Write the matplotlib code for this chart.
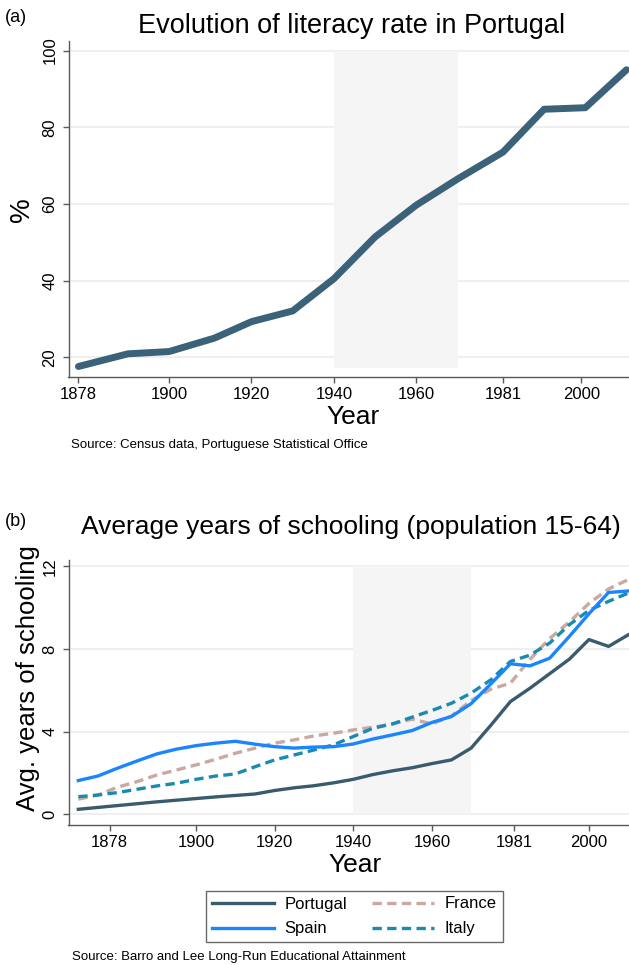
import matplotlib
matplotlib.use("Agg")
import matplotlib.pyplot as plt

plt.rcParams['font.family'] = ['Liberation Sans', 'DejaVu Sans']

# ---------------- data ----------------
lit_years = [1878, 1890, 1900, 1911, 1920, 1930, 1940, 1950, 1960, 1970, 1981, 1991, 2001, 2011]
lit_rate = [17.6, 20.9, 21.5, 25.0, 29.3, 32.1, 40.5, 51.4, 59.7, 66.5, 73.5, 84.7, 85.1, 95.0]

sch_years = [1870, 1875, 1880, 1885, 1890, 1895, 1900, 1905, 1910, 1915, 1920, 1925, 1930,
             1935, 1940, 1945, 1950, 1955, 1960, 1965, 1970, 1975, 1980, 1985, 1990, 1995,
             2000, 2005, 2010]
portugal = [0.24, 0.33, 0.42, 0.51, 0.60, 0.68, 0.76, 0.84, 0.91, 0.98, 1.15, 1.28, 1.38,
            1.52, 1.69, 1.92, 2.10, 2.25, 2.45, 2.63, 3.20, 4.30, 5.45, 6.10, 6.80, 7.50,
            8.45, 8.12, 8.68]
spain = [1.63, 1.85, 2.23, 2.58, 2.92, 3.15, 3.32, 3.44, 3.53, 3.39, 3.27, 3.20, 3.25,
         3.27, 3.40, 3.64, 3.84, 4.05, 4.44, 4.73, 5.35, 6.30, 7.28, 7.18, 7.55, 8.60,
         9.70, 10.73, 10.80]
france = [0.73, 0.93, 1.31, 1.58, 1.90, 2.14, 2.39, 2.66, 2.95, 3.20, 3.44, 3.60, 3.79,
          3.92, 4.08, 4.21, 4.37, 4.60, 4.37, 4.75, 5.50, 6.05, 6.34, 7.50, 8.50, 9.30,
          10.20, 10.90, 11.35]
italy = [0.85, 0.93, 1.05, 1.21, 1.37, 1.50, 1.69, 1.85, 1.95, 2.30, 2.63, 2.87, 3.11,
         3.36, 3.76, 4.16, 4.37, 4.70, 5.02, 5.37, 5.86, 6.50, 7.39, 7.70, 8.28, 9.17,
         9.86, 10.30, 10.70]

xticks = [1878, 1900, 1920, 1940, 1960, 1981, 2000]
yticks_a = [20, 40, 60, 80, 100]
yticks_b = [0, 4, 8, 12]
shade_span = (1940, 1970)

# ---------------- figure ----------------
W, H = 629, 965
fig = plt.figure(figsize=(W / 100, H / 100), dpi=100)

def px_axes(l, t, r, b):
    return fig.add_axes([l / W, 1 - b / H, (r - l) / W, (b - t) / H])

def fx(x):
    return x / W

def fy(y):
    return 1 - y / H

spine_c = '#5a5a5a'
grid_c = '#ececec'
shade_c = '#f5f5f5'

def style(ax, yt):
    for s in ['top', 'right']:
        ax.spines[s].set_visible(False)
    for s in ['left', 'bottom']:
        ax.spines[s].set_color(spine_c)
        ax.spines[s].set_linewidth(1.0)
    ax.set_xticks(xticks)
    ax.set_yticks(yt)
    ax.tick_params(axis='both', colors=spine_c, labelcolor='black', labelsize=12,
                   length=4, width=1, direction='out', pad=3.5)
    ax.tick_params(axis='y', pad=4)
    for lab in ax.get_yticklabels():
        lab.set_rotation(90)
        lab.set_va('center')
    ax.set_axisbelow(True)
    for v in yt:
        ax.axhline(v, color=grid_c, lw=1.2, zorder=0.5)

# ---- panel (a) ----
axa = px_axes(68.5, 41, 629, 376.7)
axa.set_xlim(1875.6, 2011.6)
axa.set_ylim(14.94, 102.5)
style(axa, yticks_a)
axa.fill_between(shade_span, min(lit_rate) - 0.3, 100, color=shade_c, lw=0, zorder=1)
axa.plot(lit_years, lit_rate, color='#3b6279', lw=5, solid_capstyle='round',
         solid_joinstyle='round', zorder=3)

fig.text(fx(5), fy(17), '(a)', fontsize=13, va='center', ha='left')
fig.text(fx(352), fy(33), 'Evolution of literacy rate in Portugal', fontsize=19.5,
         ha='center', va='baseline')
fig.text(fx(22), fy(210), '%', fontsize=20, rotation=90, ha='center', va='center')
fig.text(fx(353), fy(417), 'Year', fontsize=19, ha='center', va='center')
fig.text(fx(71), fy(445), 'Source: Census data, Portuguese Statistical Office',
         fontsize=9.5, ha='left', va='center')

# ---- panel (b) ----
axb = px_axes(68.5, 560, 629, 825)
axb.set_xlim(1867.5, 2010.2)
axb.set_ylim(-0.52, 12.3)
style(axb, yticks_b)
axb.fill_between(shade_span, 0, 12, color=shade_c, lw=0, zorder=1)

lw_b = 2.4
h_pt, = axb.plot(sch_years, portugal, color='#3a5a6e', lw=lw_b, zorder=3, label='Portugal')
h_es, = axb.plot(sch_years, spain, color='#1a85ff', lw=lw_b, zorder=3, label='Spain')
h_fr, = axb.plot(sch_years, france, color='#c9a9a0', lw=lw_b, zorder=2.8,
                 dashes=(2.8, 1.6), label='France')
h_it, = axb.plot(sch_years, italy, color='#1a8bb0', lw=lw_b, zorder=2.9,
                 dashes=(2.8, 1.6), label='Italy')

fig.text(fx(5), fy(522), '(b)', fontsize=13, va='center', ha='left')
fig.text(fx(81), fy(534), 'Average years of schooling (population 15-64)', fontsize=19.0,
         ha='left', va='baseline')
fig.text(fx(28), fy(678), 'Avg. years of schooling', fontsize=18.5, rotation=90,
         ha='center', va='center')
fig.text(fx(355), fy(865), 'Year', fontsize=19, ha='center', va='center')

leg = fig.legend(handles=[h_pt, h_es, h_fr, h_it], ncol=2, loc='center',
                 bbox_to_anchor=(fx(354.5), fy(916.5)), fontsize=12,
                 frameon=True, fancybox=False, handlelength=3.7, handletextpad=0.65,
                 columnspacing=1.5, labelspacing=0.6, borderpad=0.35)
leg.get_frame().set_edgecolor('#444444')
leg.get_frame().set_linewidth(1.0)

fig.text(fx(72), fy(957), 'Source: Barro and Lee Long-Run Educational Attainment',
         fontsize=9.5, ha='left', va='center')

fig.savefig('out.png', dpi=100)
